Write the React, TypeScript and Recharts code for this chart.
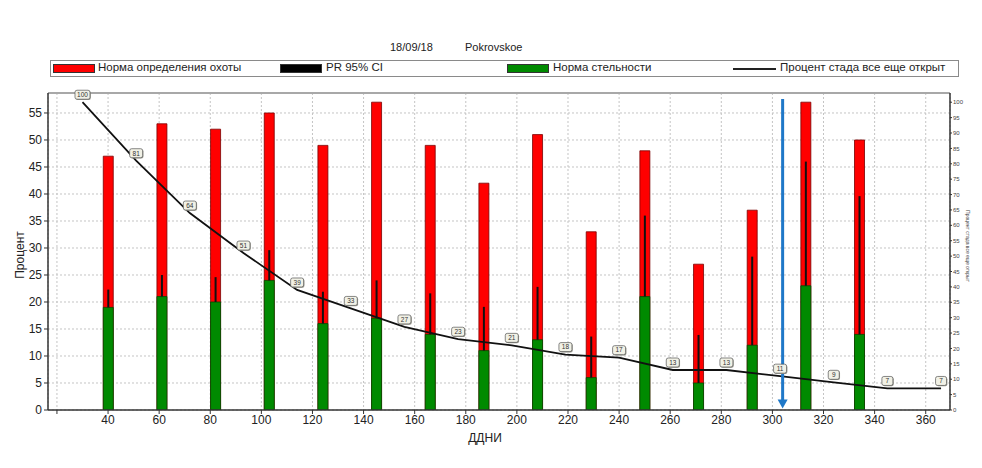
import {
  ComposedChart,
  Bar,
  Line,
  XAxis,
  YAxis,
  CartesianGrid,
  ErrorBar,
  LabelList,
  ReferenceLine,
} from "recharts";

// bars: heat detection rate (red), pregnancy rate (green), upper 95% CI of PR
const BAR_DAYS = [40, 61, 82, 103, 124, 145, 166, 187, 208, 229, 250, 271, 292, 313, 334];
const HEAT_RATE = [47, 53, 52, 55, 49, 57, 49, 42, 51, 33, 48, 27, 37, 57, 50];
const PREG_RATE = [19, 21, 20, 24, 16, 17, 14, 11, 13, 6, 21, 5, 12, 23, 14];
const PR_CI_UPPER = [22.3, 25, 24.6, 29.6, 21.9, 24, 21.6, 19.1, 22.8, 13.6, 36, 13.9, 28.4, 46, 39.6];

// line: percent of herd still open (right axis)
const OPEN_DAYS = [30, 51, 72, 93, 114, 135, 156, 177, 198, 219, 240, 261, 282, 303, 324, 345, 366];
const OPEN_PCT = [100, 81, 64, 51, 39, 33, 27, 23, 21, 18, 17, 13, 13, 11, 9, 7, 7];

const X_TICKS = [20, 40, 60, 80, 100, 120, 140, 160, 180, 200, 220, 240, 260, 280, 300, 320, 340, 360];
const LEFT_TICKS = [0, 5, 10, 15, 20, 25, 30, 35, 40, 45, 50, 55];
const RIGHT_TICKS = [0, 5, 10, 15, 20, 25, 30, 35, 40, 45, 50, 55, 60, 65, 70, 75, 80, 85, 90, 95, 100];

const ARROW_DAY = 304;

const FONT = "'Liberation Sans', Arial, sans-serif";

type Row = { day: number; heat?: number; preg?: number; ciErr?: number[]; open?: number };

const rows: Row[] = [
  ...BAR_DAYS.map((d, i) => ({
    day: d,
    heat: HEAT_RATE[i],
    preg: PREG_RATE[i],
    ciErr: [0, PR_CI_UPPER[i] - PREG_RATE[i]],
  })),
  ...OPEN_DAYS.map((d, i) => ({ day: d, open: OPEN_PCT[i] })),
].sort((a, b) => a.day - b.day);

function PointTag(props: any) {
  const { x, y, value } = props;
  if (value == null || x == null) return null;
  const txt = String(value);
  const w = txt.length > 2 ? 15 : txt.length > 1 ? 13 : 11;
  return (
    <g>
      <rect x={x - w / 2 + 0.8} y={y - 11.2} width={w} height={9} rx={2} fill="#9a9a90" />
      <rect x={x - w / 2} y={y - 12} width={w} height={9} rx={2} fill="#f1f1e6" stroke="#555" strokeWidth={0.7} />
      <text x={x} y={y - 5.2} fontSize={6.5} fill="#333" textAnchor="middle" fontFamily={FONT}>
        {txt}
      </text>
    </g>
  );
}

function Arrow(props: any) {
  const { x1, y1, x2, y2 } = props;
  if (x1 == null) return null;
  return (
    <g>
      <line x1={x1} y1={y1} x2={x2} y2={y2 - 7} stroke="#1f78c8" strokeWidth={3} />
      <polygon points={`${x2 - 5},${y2 - 9} ${x2 + 5},${y2 - 9} ${x2},${y2}`} fill="#1f78c8" />
    </g>
  );
}

const legendItems = [
  { label: "Норма определения охоты", left: 53, textLeft: 98, kind: "box", color: "#ff0000" },
  { label: "PR 95% CI", left: 280, textLeft: 326, kind: "box", color: "#000000" },
  { label: "Норма стельности", left: 507, textLeft: 553, kind: "box", color: "#008a00" },
  { label: "Процент стада все еще открыт", left: 733, textLeft: 780, kind: "line", color: "#222" },
];

export default function App() {
  return (
    <div
      style={{
        position: "absolute",
        left: 0,
        top: 0,
        width: 982,
        height: 468,
        background: "#fff",
        fontFamily: FONT,
        overflow: "hidden",
      }}
    >
      <div style={{ position: "absolute", left: 390, top: 41, fontSize: 11, color: "#222" }}>18/09/18</div>
      <div style={{ position: "absolute", left: 465, top: 41, fontSize: 11, color: "#222" }}>Pokrovskoe</div>

      <div
        style={{
          position: "absolute",
          left: 50,
          top: 60,
          width: 909,
          height: 17,
          border: "1px solid #8a8a8a",
          boxSizing: "border-box",
        }}
      />
      {legendItems.map((it) => (
        <div key={it.label}>
          {it.kind === "box" ? (
            <div
              style={{
                position: "absolute",
                left: it.left,
                top: 64,
                width: 42,
                height: 9,
                background: it.color,
                border: "1px solid #333",
                boxSizing: "border-box",
              }}
            />
          ) : (
            <div style={{ position: "absolute", left: it.left, top: 68, width: 43, height: 1.5, background: it.color }} />
          )}
          <div
            style={{
              position: "absolute",
              left: it.textLeft,
              top: 61,
              fontSize: 11.5,
              color: "#222",
              whiteSpace: "nowrap",
            }}
          >
            {it.label}
          </div>
        </div>
      ))}

      <div
        style={{
          position: "absolute",
          left: 20,
          top: 255,
          fontSize: 12,
          color: "#222",
          transform: "translate(-50%, -50%) rotate(-90deg)",
          whiteSpace: "nowrap",
        }}
      >
        Процент
      </div>
      <div
        style={{
          position: "absolute",
          left: 485,
          top: 438,
          fontSize: 12,
          color: "#222",
          transform: "translate(-50%, -50%)",
        }}
      >
        ДДНИ
      </div>
      <div
        style={{
          position: "absolute",
          left: 968,
          top: 246,
          fontSize: 5,
          color: "#444",
          transform: "translate(-50%, -50%) rotate(90deg)",
          whiteSpace: "nowrap",
        }}
      >
        Процент стада все еще открыт
      </div>

      <div style={{ position: "absolute", left: 0, top: 0 }}>
        <ComposedChart
          width={982}
          height={468}
          data={rows}
          margin={{ top: 93, right: 0, left: 0, bottom: 0 }}
          barGap={-10}
        >
          <CartesianGrid yAxisId="left" stroke="#c4c4c4" strokeDasharray="2 2" />
          <XAxis
            type="number"
            dataKey="day"
            domain={[16.5, 369.5]}
            allowDataOverflow
            ticks={X_TICKS}
            tickFormatter={(v) => (v === 20 ? "" : String(v))}
            height={58}
            tick={{ fontSize: 12, fill: "#222", fontFamily: FONT }}
            tickSize={4}
            tickMargin={1}
            axisLine={{ stroke: "#333", strokeWidth: 1.5 }}
            tickLine={{ stroke: "#333" }}
          />
          <YAxis
            yAxisId="left"
            domain={[0, 58.7]}
            allowDataOverflow
            ticks={LEFT_TICKS}
            width={48}
            tick={{ fontSize: 12, fill: "#222", fontFamily: FONT }}
            tickSize={4}
            tickMargin={2}
            axisLine={{ stroke: "#333", strokeWidth: 1.5 }}
            tickLine={{ stroke: "#333" }}
          />
          <YAxis
            yAxisId="right"
            orientation="right"
            domain={[0, 103]}
            allowDataOverflow
            ticks={RIGHT_TICKS}
            width={32}
            tick={{ fontSize: 6, fill: "#444", fontFamily: FONT }}
            tickSize={2}
            tickMargin={1}
            axisLine={{ stroke: "#333", strokeWidth: 1.5 }}
            tickLine={{ stroke: "#333" }}
          />
          <ReferenceLine yAxisId="left" y={58.7} stroke="#a8a8a8" strokeWidth={2} ifOverflow="visible" />
          <Bar
            yAxisId="left"
            dataKey="heat"
            barSize={10}
            fill="#ff0000"
            stroke="#7a0000"
            strokeWidth={0.8}
            isAnimationActive={false}
          />
          <Bar
            yAxisId="left"
            dataKey="preg"
            barSize={10}
            fill="#008a00"
            stroke="#004a00"
            strokeWidth={0.8}
            isAnimationActive={false}
          >
            <ErrorBar dataKey="ciErr" direction="y" width={0} stroke="#111" strokeWidth={2} />
          </Bar>
          <Line
            yAxisId="right"
            dataKey="open"
            type="linear"
            stroke="#111"
            strokeWidth={1.8}
            dot={false}
            connectNulls
            isAnimationActive={false}
          >
            <LabelList dataKey="open" content={PointTag} />
          </Line>
          <ReferenceLine
            yAxisId="left"
            segment={[
              { x: ARROW_DAY, y: 57.6 },
              { x: ARROW_DAY, y: 0.3 },
            ]}
            shape={Arrow}
          />
        </ComposedChart>
      </div>
    </div>
  );
}
